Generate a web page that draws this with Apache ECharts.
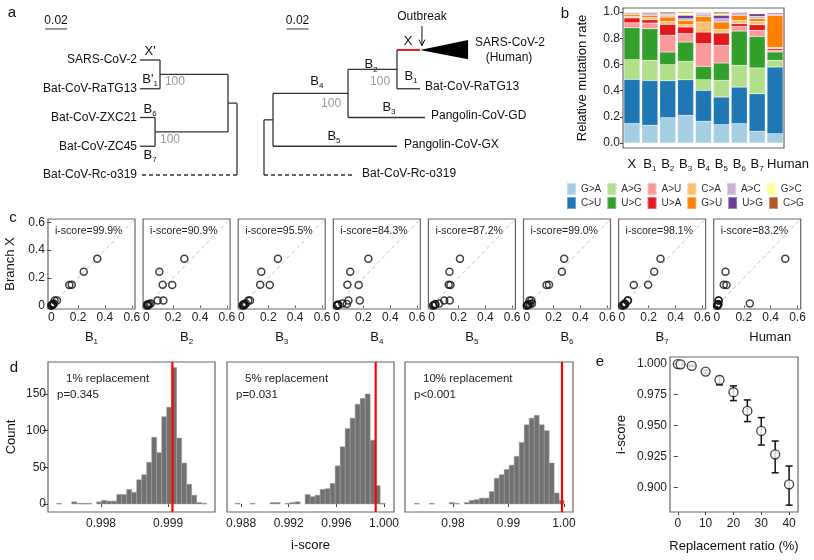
<!DOCTYPE html>
<html><head><meta charset="utf-8">
<script src="https://cdn.jsdelivr.net/npm/echarts@6.0.0/dist/echarts.min.js"></script>
<style>html,body{margin:0;padding:0;background:#fff}#c{width:814px;height:560px}</style>
</head><body><div id="c"></div>
<script>
const FF = "'Liberation Sans', Arial, Helvetica, sans-serif";

// ================= DATA =================
// Panel b: relative mutation rates (12 mutation types per branch)
const mutationTypes  = ['G>A','C>U','A>G','U>C','A>U','U>A','C>A','G>U','A>C','U>G','G>C','C>G'];
const mutationColors = ['#a6cee3','#1f78b4','#b2df8a','#33a02c','#fb9a99','#e31a1c','#fdbf6f','#ff7f00','#cab2d6','#6a3d9a','#ffff99','#b15928'];
const branchLabels   = ['X','B1','B2','B3','B4','B5','B6','B7','Human'];
const rateX     = [0.148,0.338,0.150,0.244,0.038,0.037,0.012,0.015,0.006,0.008,0.002,0.002];
const rateB1    = [0.135,0.343,0.153,0.242,0.043,0.025,0.016,0.018,0.012,0.010,0.002,0.001];
const rateB2    = [0.193,0.283,0.122,0.097,0.127,0.084,0.023,0.033,0.013,0.007,0.005,0.013];
const rateB3    = [0.211,0.272,0.140,0.148,0.064,0.051,0.017,0.033,0.013,0.026,0.017,0.008];
const rateB4    = [0.165,0.237,0.081,0.102,0.173,0.089,0.077,0.043,0.015,0.008,0.005,0.005];
const rateB5    = [0.140,0.211,0.127,0.133,0.135,0.094,0.028,0.056,0.025,0.026,0.012,0.013];
const rateB6    = [0.148,0.279,0.166,0.262,0.035,0.021,0.025,0.039,0.012,0.010,0.002,0.001];
const rateB7    = [0.089,0.288,0.196,0.241,0.046,0.043,0.026,0.020,0.018,0.020,0.010,0.003];
const rateHuman = [0.071,0.509,0.051,0.064,0.012,0.013,0.010,0.245,0.007,0.010,0.006,0.002];
const legendRow1 = ['G>A','A>G','A>U','C>A','A>C','G>C'];
const legendRow2 = ['C>U','U>C','U>A','G>U','U>G','C>G'];

// Panel c: i-scores of each branch vs branch X
const iScores = ['99.9','90.9','95.5','84.3','87.2','99.0','98.1','83.2'];

// Panel d: histograms of i-score under random replacement
const replLabels = ['1% replacement','5% replacement','10% replacement'];
const pLabels    = ['p=0.345','p=0.031','p<0.001'];
const hist1Start = 0.997338, hist1Width = 0.0000746;
const hist1Counts = [1,0,0,3,1,1,1,0,3,5,4,4,13,13,20,16,33,40,57,91,70,119,132,186,90,56,27,12,2,1];
const hist2Start = 0.98750, hist2Width = 0.00042;
const hist2Counts = [1,0,0,1,0,0,0,2,2,0,1,2,3,0,13,10,12,20,21,28,52,78,103,117,136,144,150,87,25,1];
const hist3Start = 0.973027, hist3Width = 0.0009;
const hist3Counts = [1,0,0,1,0,0,0,2,1,0,2,5,6,8,8,17,35,40,47,53,65,84,108,117,121,108,100,56,15,5];
const observedScore = [0.999065, 0.99930, 0.99964];
const histXTicks = [[0.998,0.999],[0.988,0.992,0.996,1.000],[0.98,0.99,1.00]];
const histXDigits = [3,3,2];
const histCountTicks = [0,50,100,150];

// Panel e: i-score vs replacement ratio
const replRatio  = [0,1,5,10,15,20,25,30,35,40];
const meanScore  = [0.9993,0.9991,0.9979,0.9933,0.9866,0.9767,0.9617,0.9456,0.9268,0.9027];
const upperScore = [0.9995,0.9994,0.9985,0.9946,0.9893,0.9818,0.9705,0.9563,0.9375,0.9174];
const lowerScore = [0.9991,0.9988,0.9973,0.9918,0.9826,0.9700,0.9531,0.9343,0.9120,0.8860];

// Panel a: phylogenies (distance from root in substitutions/site, leaf rows)
const leftTreeNodes = [
  {id:'root', dist:0},
  {id:'A', parent:'root', dist:0.0082},
  {id:'S', parent:'A', dist:0.0700},
  {id:'Z', parent:'A', dist:0.0745},
  {id:'SARS-CoV-2', parent:'S', dist:0.0882, row:0},
  {id:'Bat-CoV-RaTG13', parent:'S', dist:0.0882, row:1},
  {id:'Bat-CoV-ZXC21', parent:'Z', dist:0.0882, row:2},
  {id:'Bat-CoV-ZC45', parent:'Z', dist:0.0882, row:3},
  {id:'Bat-CoV-Rc-o319', parent:'root', dist:0.0882, row:4, dash:true}
];
const rightTreeNodes = [
  {id:'root', dist:0},
  {id:'P', parent:'root', dist:0.0082},
  {id:'N4', parent:'P', dist:0.0764},
  {id:'N2', parent:'N4', dist:0.1209},
  {id:'SARS', parent:'N2', dist:0.1418, row:-0.35, color:'#e8141c'},
  {id:'Bat-CoV-RaTG13', parent:'N2', dist:0.1418, row:1},
  {id:'Pangolin-CoV-GD', parent:'N4', dist:0.1464, row:2},
  {id:'Pangolin-CoV-GX', parent:'P', dist:0.1209, row:3},
  {id:'Bat-CoV-Rc-o319', parent:'root', dist:0.0827, row:4, dash:true}
];
const humanClade = {tip:0.1418, base:0.1855, rowTop:-0.70, rowBottom:-0.03, rowTip:-0.35};
const scaleBar = 0.02;

// ================= HELPERS =================
const SUB = {
  n:{fontSize:13, fontFamily:FF, color:'#111', lineHeight:17, verticalAlign:'middle'},
  s:{fontSize:8, fontFamily:FF, color:'#111', verticalAlign:'bottom'},
  r:{fontSize:13, fontFamily:FF, color:'#e8141c', lineHeight:17},
  h:{fontSize:13, fontFamily:FF, color:'#111', lineHeight:17, padding:[0,0,0,26]}
};
function bsub(lbl){
  if (lbl.length===2 && lbl[0]==='B') return '{n|B}{s|'+lbl[1]+'}';
  if (lbl==='Human') return '{h|Human}';
  return '{n|'+lbl+'}';
}
function buildTree(nodes){
  const by = {};
  nodes.forEach(n=>{ by[n.id] = Object.assign({kids:[]}, n); });
  nodes.forEach(n=>{ if(n.parent) by[n.parent].kids.push(by[n.id]); });
  function rowOf(n){ if(n.row!==undefined) return n.row; n.row = n.kids.reduce((a,k)=>a+rowOf(k),0)/n.kids.length; return n.row; }
  Object.values(by).forEach(rowOf);
  const segs = [];
  Object.values(by).forEach(n=>{
    if(n.parent){ const p = by[n.parent]; segs.push({x1:p.dist,y1:n.row,x2:n.dist,y2:n.row,color:n.color||'#333',dash:!!n.dash,w:n.color?2:1.3}); }
    if(n.kids.length){ const rs = n.kids.map(k=>k.row); segs.push({x1:n.dist,y1:Math.min(...rs),x2:n.dist,y2:Math.max(...rs),color:'#333',dash:false,w:1.3}); }
  });
  return segs;
}
function segSeries(gi, segs, z){
  return {type:'custom', xAxisIndex:gi, yAxisIndex:gi, silent:true, z:z||2,
    data: segs.map(s=>[s.x1,s.y1,s.x2,s.y2]), encode:{x:[0,2], y:[1,3]},
    renderItem:(p,api)=>{ const s=segs[p.dataIndex]; const a=api.coord([s.x1,s.y1]), b=api.coord([s.x2,s.y2]);
      return {type:'line', shape:{x1:a[0],y1:a[1],x2:b[0],y2:b[1]}, style:{stroke:s.color, lineWidth:s.w||1.3, lineDash:s.dash?[4,3]:null}}; }};
}
function textSeries(gi, items){
  return {type:'custom', xAxisIndex:gi, yAxisIndex:gi, silent:true, z:5,
    data: items.map(it=>[it.x,it.y]), encode:{x:0,y:1},
    renderItem:(p,api)=>{ const it=items[p.dataIndex]; const c=api.coord([it.x,it.y]);
      return {type:'text', x:c[0], y:c[1], style:{text:it.t, fill:it.color||'#111', fontSize:it.size||12, fontFamily:FF,
        align:it.align||'center', verticalAlign:'middle', rich:SUB}}; }};
}
function hidden(gi, min, max, inverse){ return {type:'value', gridIndex:gi, min, max, inverse:!!inverse, show:false}; }
function valAxis(gi, min, max, ticks, fmt, o){
  o = o||{};
  const ax = {type:'value', gridIndex:gi, min, max, axisLine:{show:false}, splitLine:{show:false},
    axisTick: ticks ? {show:true, customValues:ticks, length:o.tick||4, lineStyle:{color:'#444', width:1}} : {show:false},
    axisLabel: ticks ? {show:true, customValues:ticks, formatter:fmt, fontSize:o.fs||12, color:'#222', fontFamily:FF, margin:o.margin==null?3:o.margin} : {show:false}};
  if (o.name){ Object.assign(ax, {name:o.name, nameLocation:'middle', nameGap:o.nameGap, nameRotate:o.nameRotate||0,
    nameTextStyle:{fontSize:o.nameSize||13, color:'#111', fontFamily:FF, rich:SUB}}); }
  return ax;
}

// ================= LAYOUT =================
const grids = [], xAxes = [], yAxes = [], series = [], graphics = [];
const ROWPX = 28.75, ROWMIN = -60/ROWPX, ROWMAX = ROWMIN + 200/ROWPX, PXU = 1100;

// -- panel a: left tree (root on the right)
grids.push({left:0, top:0, width:237, height:200, show:false});
xAxes.push(hidden(0, 0, 237/PXU, true)); yAxes.push(hidden(0, ROWMIN, ROWMAX, true));
series.push(segSeries(0, buildTree(leftTreeNodes)));
series.push(segSeries(0, [{x1:0.1745,y1:-1.08,x2:0.1745-scaleBar,y2:-1.08,color:'#333',w:1}]));
const leftLeaves = leftTreeNodes.filter(n=>n.row!==undefined);
series.push(textSeries(0, [
  ...leftLeaves.map(n=>({x:0.0909, y:n.row, t:n.id, align:'right'})),
  {x:0.1645, y:-1.36, t:String(scaleBar), size:12},
  {x:0.079, y:-0.30, t:"{n|X'}"},
  {x:0.079, y:0.68, t:"{n|B'}{s|1}"},
  {x:0.079, y:1.72, t:'{n|B}{s|6}'},
  {x:0.079, y:3.32, t:'{n|B}{s|7}'},
  {x:0.0655, y:0.76, t:'100', align:'left', color:'#999', size:12},
  {x:0.0700, y:2.78, t:'100', align:'left', color:'#999', size:12}
]));

// -- panel a: right tree (root on the left)
grids.push({left:264, top:0, width:300, height:200, show:false});
xAxes.push(hidden(1, 0, 300/PXU)); yAxes.push(hidden(1, ROWMIN, ROWMAX, true));
series.push(segSeries(1, buildTree(rightTreeNodes)));
series.push(segSeries(1, [{x1:0.0205,y1:-1.08,x2:0.0205+scaleBar,y2:-1.08,color:'#333',w:1},
  {x1:0.1436,y1:-1.18,x2:0.1436,y2:-0.50,color:'#111',w:1}]));
series.push({type:'custom', xAxisIndex:1, yAxisIndex:1, silent:true, z:3,
  data:[[humanClade.tip, humanClade.rowTip],[humanClade.base, humanClade.rowTop],[humanClade.base, humanClade.rowBottom]],
  encode:{x:0,y:1},
  renderItem:(p,api)=>{ if(p.dataIndex>0) return null;
    const a=api.coord([humanClade.tip,humanClade.rowTip]), b=api.coord([humanClade.base,humanClade.rowTop]), c=api.coord([humanClade.base,humanClade.rowBottom]);
    const t=api.coord([0.1436,-0.50]);
    return {type:'group', children:[
      {type:'polygon', shape:{points:[a,b,c]}, style:{fill:'#000'}},
      {type:'polyline', shape:{points:[[t[0]-3,t[1]-6],[t[0],t[1]],[t[0]+3,t[1]-6]]}, style:{stroke:'#111', lineWidth:1, fill:null}}
    ]}; }});
series.push(textSeries(1, [
  {x:0.1464, y:0.92, t:'Bat-CoV-RaTG13', align:'left'},
  {x:0.1518, y:1.94, t:'Pangolin-CoV-GD', align:'left'},
  {x:0.1273, y:2.94, t:'Pangolin-CoV-GX', align:'left'},
  {x:0.0891, y:3.94, t:'Bat-CoV-Rc-o319', align:'left'},
  {x:0.1918, y:-0.60, t:'SARS-CoV-2', align:'left'},
  {x:0.2227, y:-0.08, t:'(Human)'},
  {x:0.1436, y:-1.50, t:'Outbreak'},
  {x:0.0305, y:-1.36, t:String(scaleBar)},
  {x:0.131, y:-0.64, t:'{r|X}'},
  {x:0.1336, y:0.58, t:'{n|B}{s|1}'},
  {x:0.0973, y:0.17, t:'{n|B}{s|2}'},
  {x:0.1055, y:0.75, t:'100', color:'#999'},
  {x:0.048, y:0.75, t:'{n|B}{s|4}'},
  {x:0.061, y:1.53, t:'100', color:'#999'},
  {x:0.1136, y:1.65, t:'{n|B}{s|3}'},
  {x:0.0636, y:2.67, t:'{n|B}{s|5}'}
]));

// -- panel b: stacked bars
const branchRates = [rateX,rateB1,rateB2,rateB3,rateB4,rateB5,rateB6,rateB7,rateHuman];
grids.push({left:623, top:8, width:161, height:140, show:true, borderColor:'#666', borderWidth:1.2});
xAxes.push({type:'category', gridIndex:2, data:branchLabels, axisLine:{show:false}, axisTick:{show:false},
  axisLabel:{formatter:v=>bsub(v), rich:SUB, margin:8, interval:0}});
yAxes.push(valAxis(2, -0.038, 1.031, [0,0.2,0.4,0.6,0.8,1.0], v=>v.toFixed(1),
  {name:'Relative mutation rate', nameGap:34, nameRotate:90, nameSize:13, tick:3}));
mutationTypes.forEach((t,k)=>{
  series.push({type:'bar', name:t, stack:'rates', xAxisIndex:2, yAxisIndex:2, barWidth:16,
    data: branchRates.map(r=>r[k]), itemStyle:{color:mutationColors[k], borderColor:'rgba(255,255,255,0.35)', borderWidth:0.5}, silent:true});
});
const legendBase = {orient:'horizontal', left:561, width:300, itemWidth:9, itemHeight:12, itemGap:5, icon:'rect', selectedMode:false,
  formatter:n=>'{t|'+n+'}', textStyle:{rich:{t:{width:24.5, fontSize:10, fontFamily:FF, color:'#333'}}}};
const legends = [Object.assign({}, legendBase, {top:177, data:legendRow1}), Object.assign({}, legendBase, {top:191, data:legendRow2})];

// -- panel c: scatter vs branch X
const cLo = -0.024, cHi = 0.624;
for (let j=0;j<8;j++){
  const gi = 3+j, gl = 48 + j*95.1;
  grids.push({left:gl, top:219, width:87, height:90, show:true, borderColor:'#666', borderWidth:1.2});
  xAxes.push(valAxis(gi, cLo, cHi, [0,0.2,0.4,0.6], v=>v===0?'0':String(v),
    {fs:12, margin:3, tick:2, name:bsub(branchLabels[j+1]), nameGap:20, nameSize:13}));
  yAxes.push(j===0 ? valAxis(gi, cLo, cHi, [0,0.2,0.4,0.6], v=>v===0?'0':String(v), {fs:12, margin:3, tick:4, name:'Branch X', nameGap:31, nameRotate:90, nameSize:13})
                   : valAxis(gi, cLo, cHi, null));
  series.push(segSeries(gi, [{x1:cLo,y1:cLo,x2:cHi,y2:cHi,color:'#c4c4c4',dash:true,w:1}], 1));
  const r = branchRates[j+1];
  series.push({type:'scatter', xAxisIndex:gi, yAxisIndex:gi, silent:true, z:4, symbol:'circle', symbolSize:7,
    data: mutationTypes.map((t,k)=>[r[k], rateX[k]]),
    itemStyle:{color:'rgba(0,0,0,0)', borderColor:'#111', borderWidth:1.5}});
  graphics.push({type:'text', x:gl+7, y:231, style:{text:'i-score='+iScores[j]+'%', fontSize:10.5, fontFamily:FF, fill:'#222', verticalAlign:'middle'}});
}

// -- panel d: histograms
const histDefs = [
  {left:48, width:167, xmin:0.997209, xmax:0.9997, start:hist1Start, w:hist1Width, counts:hist1Counts},
  {left:227, width:167, xmin:0.98682, xmax:1.00084, start:hist2Start, w:hist2Width, counts:hist2Counts},
  {left:405, width:168, xmin:0.971351, xmax:1.001622, start:hist3Start, w:hist3Width, counts:hist3Counts}
];
const dYmin = -10.9, dYmax = 193.6;
histDefs.forEach((h,i)=>{
  const gi = 11+i;
  grids.push({left:h.left, top:362, width:h.width, height:150, show:true, borderColor:'#666', borderWidth:1.2});
  const dg = histXDigits[i];
  xAxes.push(valAxis(gi, h.xmin, h.xmax, histXTicks[i], v=>v.toFixed(dg), i===1 ? {fs:12, margin:6, tick:3, name:'i-score', nameGap:27, nameSize:13} : {fs:12, margin:6, tick:3}));
  yAxes.push(i===0 ? valAxis(gi, dYmin, dYmax, histCountTicks, v=>String(v), {fs:12, margin:2, tick:5, name:'Count', nameGap:30, nameRotate:90, nameSize:13})
                   : valAxis(gi, dYmin, dYmax, null));
  series.push({type:'custom', xAxisIndex:gi, yAxisIndex:gi, silent:true, z:2,
    data: h.counts.map((c,k)=>[h.start+k*h.w, h.start+(k+1)*h.w, c]), encode:{x:[0,1], y:2},
    renderItem:(p,api)=>{ const c = api.value(2); if(!c) return null;
      const a=api.coord([api.value(0),0]), b=api.coord([api.value(1),c]);
      return {type:'rect', shape:{x:a[0], y:b[1], width:b[0]-a[0], height:Math.max(a[1]-b[1],0.8)},
        style:{fill:'#707070', stroke:'#a0a0a0', lineWidth:0.5}}; }});
  series.push(segSeries(gi, [{x1:observedScore[i],y1:dYmin,x2:observedScore[i],y2:dYmax,color:'#ff0000',w:2.2}], 4));
  graphics.push({type:'text', x:h.left+18, y:379, style:{text:replLabels[i], fontSize:11.5, fontFamily:FF, fill:'#222', verticalAlign:'middle'}});
  graphics.push({type:'text', x:h.left+9, y:395, style:{text:pLabels[i], fontSize:11.5, fontFamily:FF, fill:'#222', verticalAlign:'middle'}});
});

// -- panel e: i-score vs replacement ratio
grids.push({left:670, top:357, width:128, height:155, show:true, borderColor:'#666', borderWidth:1.2});
xAxes.push(valAxis(14, -2.8, 43.2, [0,10,20,30,40], v=>String(v), {fs:12, margin:6, tick:3, name:'Replacement ratio (%)', nameGap:28, nameSize:13}));
yAxes.push(valAxis(14, 0.8805, 1.005, [0.9,0.925,0.95,0.975,1.0], v=>v.toFixed(3), {fs:12, margin:3, tick:4, name:'i-score', nameGap:42, nameRotate:90, nameSize:13}));
series.push({type:'custom', xAxisIndex:14, yAxisIndex:14, silent:true, z:2,
  data: replRatio.map((r,i)=>[r, lowerScore[i], upperScore[i]]), encode:{x:0, y:[1,2]},
  renderItem:(p,api)=>{ const lo=api.coord([api.value(0),api.value(1)]), hi=api.coord([api.value(0),api.value(2)]); const w=3.5;
    const st={stroke:'#111', lineWidth:1.5};
    return {type:'group', children:[
      {type:'line', shape:{x1:lo[0],y1:lo[1],x2:hi[0],y2:hi[1]}, style:st},
      {type:'line', shape:{x1:lo[0]-w,y1:lo[1],x2:lo[0]+w,y2:lo[1]}, style:st},
      {type:'line', shape:{x1:hi[0]-w,y1:hi[1],x2:hi[0]+w,y2:hi[1]}, style:st}]}; }});
series.push({type:'scatter', xAxisIndex:14, yAxisIndex:14, silent:true, z:4, symbol:'circle', symbolSize:9,
  data: replRatio.map((r,i)=>[r, meanScore[i]]), itemStyle:{color:'#fff', borderColor:'#111', borderWidth:1.3}});

// panel letters
[['a',12,13],['b',565,14],['c',13,218],['d',14,368],['e',600,362]].forEach(l=>{
  graphics.push({type:'text', x:l[1], y:l[2], style:{text:l[0], fontSize:15, fontFamily:FF, fill:'#111', align:'center', verticalAlign:'middle'}});
});

const chart = echarts.init(document.getElementById('c'), null, {renderer:'canvas', width:814, height:560});
chart.setOption({animation:false, backgroundColor:'#fff', textStyle:{fontFamily:FF},
  grid:grids, xAxis:xAxes, yAxis:yAxes, legend:legends, series, graphic:graphics});
</script></body></html>
